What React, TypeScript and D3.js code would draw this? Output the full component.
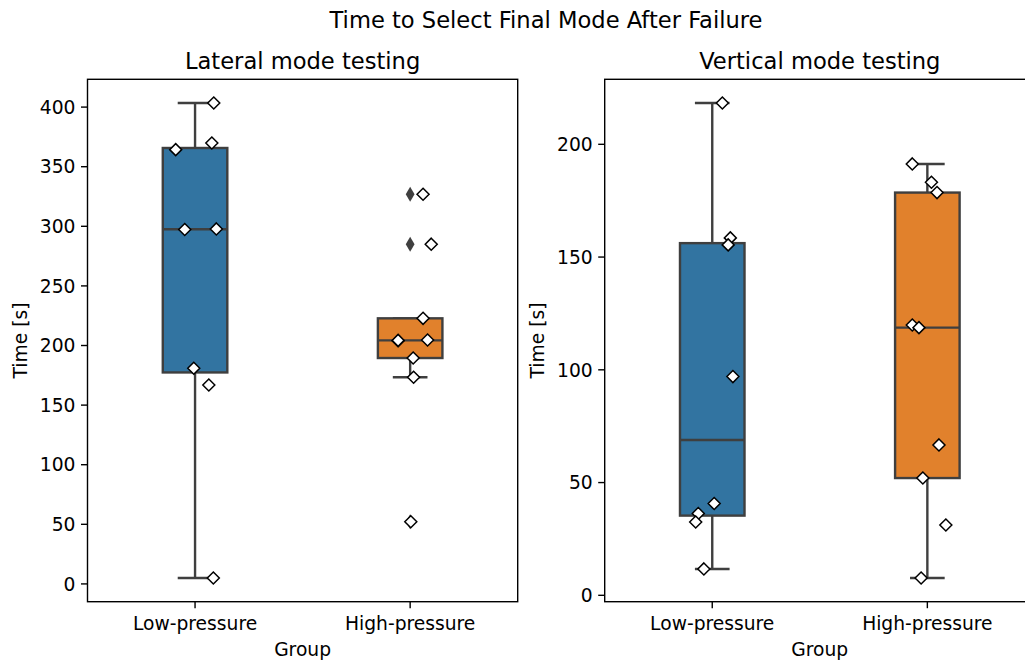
import React from "react";
import * as d3 from "d3";

// Groups shown on the x axis of both panels
const categories = ["Low-pressure", "High-pressure"];

// Selection times [s] – lateral mode testing
const lateralLow = [403.4, 369.9, 364.3, 297.3, 297.8, 180.9, 166.9, 5.0];
const lateralHigh = [326.9, 285.0, 222.8, 204.0, 204.6, 189.5, 173.4, 52.2, 204.3];

// Selection times [s] – vertical mode testing
const verticalLow = [218.3, 158.5, 155.4, 97.0, 40.7, 36.3, 32.5, 11.7];
const verticalHigh = [191.3, 183.2, 178.6, 119.9, 118.7, 66.7, 52.0, 31.2, 7.7];

// Horizontal strip jitter per point, as a fraction of the category spacing
const lateralLowJitter = [0.087, 0.078, -0.09, -0.048, 0.099, -0.006, 0.064, 0.085];
const lateralHighJitter = [0.06, 0.098, 0.06, -0.056, 0.081, 0.014, 0.016, 0.003, -0.056];
const verticalLowJitter = [0.047, 0.084, 0.074, 0.096, 0.009, -0.065, -0.077, -0.039];
const verticalHighJitter = [-0.07, 0.019, 0.045, -0.07, -0.039, 0.054, -0.021, 0.086, -0.029];

// Tick values of the two y axes
const lateralTicks = [0, 50, 100, 150, 200, 250, 300, 350, 400];
const verticalTicks = [0, 50, 100, 150, 200];

const W = 1025;
const H = 664;
const TOP = 79.3;
const BOTTOM = 601.7;
const FONT = "DejaVu Sans, sans-serif";
const TICK_FS = 18.7;
const TITLE_FS = 22.6;
const BOX_COLORS = ["#3274a1", "#e1812c"];
const LINE_GRAY = "#3f3f3f";
const BOX_WIDTH = 0.3;
const LW = 2.4;

type Stats = { q1: number; med: number; q3: number; lo: number; hi: number; fliers: number[] };

function boxStats(values: number[]): Stats {
  const s = [...values].sort(d3.ascending);
  const q1 = d3.quantile(s, 0.25)!;
  const med = d3.quantile(s, 0.5)!;
  const q3 = d3.quantile(s, 0.75)!;
  const iqr = q3 - q1;
  const loFence = q1 - 1.5 * iqr;
  const hiFence = q3 + 1.5 * iqr;
  const inside = s.filter((v) => v >= loFence && v <= hiFence);
  return {
    q1,
    med,
    q3,
    lo: d3.min(inside)!,
    hi: d3.max(inside)!,
    fliers: s.filter((v) => v < loFence || v > hiFence),
  };
}

type PanelProps = {
  title: string;
  groups: number[][];
  jitters: number[][];
  ticks: number[];
  x0: number;
  x1: number;
  ylabelX: number;
};

function Panel({ title, groups, jitters, ticks, x0, x1, ylabelX }: PanelProps) {
  const all = groups.flat();
  const [mn, mx] = d3.extent(all) as [number, number];
  const pad = (mx - mn) * 0.05;
  const y = d3.scaleLinear().domain([mn - pad, mx + pad]).range([BOTTOM, TOP]);
  const x = d3.scaleLinear().domain([-0.5, categories.length - 0.5]).range([x0, x1]);
  const step = x(1) - x(0);
  const bw = BOX_WIDTH * step;
  const cxMid = (x0 + x1) / 2;

  return (
    <g>
      <text x={cxMid} y={69} textAnchor="middle" fontSize={TITLE_FS} fontFamily={FONT} fill="#000">
        {title}
      </text>

      {groups.map((vals, gi) => {
        const st = boxStats(vals);
        const cx = x(gi);
        return (
          <g key={gi}>
            <line x1={cx} x2={cx} y1={y(st.q3)} y2={y(st.hi)} stroke={LINE_GRAY} strokeWidth={LW} />
            <line x1={cx} x2={cx} y1={y(st.q1)} y2={y(st.lo)} stroke={LINE_GRAY} strokeWidth={LW} />
            <line x1={cx - bw / 4} x2={cx + bw / 4} y1={y(st.hi)} y2={y(st.hi)} stroke={LINE_GRAY} strokeWidth={LW} strokeLinecap="square" />
            <line x1={cx - bw / 4} x2={cx + bw / 4} y1={y(st.lo)} y2={y(st.lo)} stroke={LINE_GRAY} strokeWidth={LW} strokeLinecap="square" />
            <rect
              x={cx - bw / 2}
              y={y(st.q3)}
              width={bw}
              height={y(st.q1) - y(st.q3)}
              fill={BOX_COLORS[gi]}
              stroke={LINE_GRAY}
              strokeWidth={LW}
            />
            <line x1={cx - bw / 2} x2={cx + bw / 2} y1={y(st.med)} y2={y(st.med)} stroke={LINE_GRAY} strokeWidth={LW} />
            {st.fliers.map((v, i) => {
              const yy = y(v);
              return (
                <path
                  key={i}
                  d={`M${cx},${yy - 7.5}L${cx + 4.4},${yy}L${cx},${yy + 7.5}L${cx - 4.4},${yy}Z`}
                  fill={LINE_GRAY}
                />
              );
            })}
          </g>
        );
      })}

      {groups.map((vals, gi) =>
        vals.map((v, i) => {
          const px = x(gi + jitters[gi][i]);
          const py = y(v);
          const r = 6.0;
          return (
            <path
              key={`${gi}-${i}`}
              d={`M${px},${py - r}L${px + r},${py}L${px},${py + r}L${px - r},${py}Z`}
              fill="#fff"
              stroke="#000"
              strokeWidth={1.5}
              strokeLinejoin="miter"
            />
          );
        })
      )}

      <rect x={x0} y={TOP} width={x1 - x0} height={BOTTOM - TOP} fill="none" stroke="#000" strokeWidth={1.4} />

      {ticks.map((t) => (
        <g key={t}>
          <line x1={x0 - 6.5} x2={x0} y1={y(t)} y2={y(t)} stroke="#000" strokeWidth={1.4} />
          <text
            x={x0 - 12}
            y={y(t)}
            dy="0.36em"
            textAnchor="end"
            fontSize={TICK_FS}
            fontFamily={FONT}
            fill="#000"
          >
            {t}
          </text>
        </g>
      ))}

      {categories.map((c, i) => (
        <g key={c}>
          <line x1={x(i)} x2={x(i)} y1={BOTTOM} y2={BOTTOM + 6.5} stroke="#000" strokeWidth={1.4} />
          <text x={x(i)} y={630} textAnchor="middle" fontSize={TICK_FS} fontFamily={FONT} fill="#000">
            {c}
          </text>
        </g>
      ))}

      <text x={cxMid} y={655.5} textAnchor="middle" fontSize={TICK_FS} fontFamily={FONT} fill="#000">
        Group
      </text>
      <text
        transform={`translate(${ylabelX},${(TOP + BOTTOM) / 2}) rotate(-90)`}
        textAnchor="middle"
        fontSize={TICK_FS}
        fontFamily={FONT}
        fill="#000"
      >
        Time [s]
      </text>
    </g>
  );
}

export default function App() {
  return (
    <svg
      width={W}
      height={H}
      viewBox={`0 0 ${W} ${H}`}
      style={{ position: "absolute", left: 0, top: 0, display: "block", background: "#fff" }}
    >
      <rect width={W} height={H} fill="#fff" />
      <text x={546} y={28.3} textAnchor="middle" fontSize={TITLE_FS} fontFamily={FONT} fill="#000">
        Time to Select Final Mode After Failure
      </text>
      <Panel
        title="Lateral mode testing"
        groups={[lateralLow, lateralHigh]}
        jitters={[lateralLowJitter, lateralHighJitter]}
        ticks={lateralTicks}
        x0={87.5}
        x1={517.7}
        ylabelX={27}
      />
      <Panel
        title="Vertical mode testing"
        groups={[verticalLow, verticalHigh]}
        jitters={[verticalLowJitter, verticalHighJitter]}
        ticks={verticalTicks}
        x0={604.7}
        x1={1034.9}
        ylabelX={544}
      />
    </svg>
  );
}
